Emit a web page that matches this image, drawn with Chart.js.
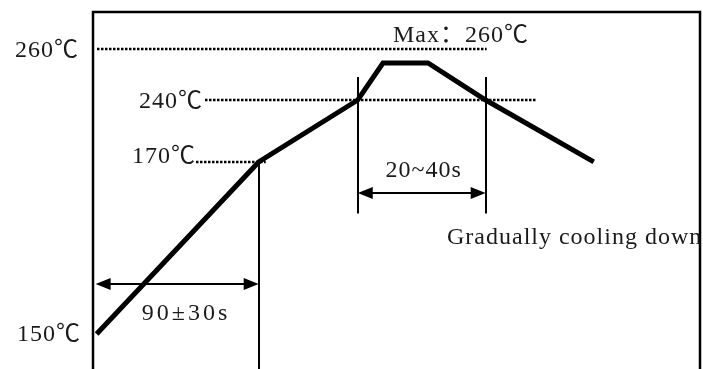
<!DOCTYPE html>
<html>
<head>
<meta charset="utf-8">
<script src="https://cdn.jsdelivr.net/npm/chart.js@4/dist/chart.umd.min.js"></script>
<style>
  html, body { margin: 0; padding: 0; background: #fff; }
  #wrap { width: 703px; height: 369px; position: relative; }
</style>
</head>
<body>
<div id="wrap"><canvas id="perfil"></canvas></div>
<script>
// datos del perfil (tiempo en s, temperatura en grados C)
const tiempos = [0, 90, 145, 159, 184, 216, 276];
const temps = [150, 170, 240, 254.5, 254.5, 240, 170];
const niveles = [150, 170, 240, 260];
const etiquetasNivel = ['150℃', '170℃', '240℃', '260℃'];
const etiquetaMax = 'Max：260℃';
const zonaPrecal = [0, 90];
const zonaReflow = [145, 216];
const textoPrecal = '90±30s';
const textoReflow = '20~40s';
const textoEnfriar = 'Gradually cooling down';

// la escala vertical del dibujo no es lineal: cada nivel tiene su altura
const alturaNivel = [0.902, 0.42, 0.2465, 0.1036];

class EscalaPerfil extends Chart.LinearScale {
    tramo(v) {
        let i = 0;
        while (i < niveles.length - 2 && v > niveles[i + 1]) i++;
        return i;
    }
    getPixelForValue(v) {
        const i = this.tramo(v);
        const f = alturaNivel[i] + (v - niveles[i]) / (niveles[i + 1] - niveles[i]) * (alturaNivel[i + 1] - alturaNivel[i]);
        return this.top + f * (this.bottom - this.top);
    }
    getValueForPixel(p) {
        const f = (p - this.top) / (this.bottom - this.top);
        let i = 0;
        while (i < alturaNivel.length - 2 && f < alturaNivel[i + 1]) i++;
        return niveles[i] + (f - alturaNivel[i]) / (alturaNivel[i + 1] - alturaNivel[i]) * (niveles[i + 1] - niveles[i]);
    }
}
EscalaPerfil.id = 'perfil';
EscalaPerfil.defaults = Chart.LinearScale.defaults;
Chart.register(EscalaPerfil);

const fuente = '24px "Liberation Serif", "Noto Sans CJK SC", serif';

function texto(ctx, t, x, y, align, espacio) {
    ctx.save();
    ctx.font = fuente;
    ctx.fillStyle = '#1a1a1a';
    ctx.textAlign = align;
    ctx.textBaseline = 'middle';
    ctx.letterSpacing = (espacio || 1) + 'px';
    ctx.fillText(t, x, y);
    ctx.restore();
}

function punteada(ctx, x1, x2, y) {
    y = Math.round(y);
    ctx.save();
    ctx.strokeStyle = '#000';
    ctx.lineWidth = 2.5;
    ctx.setLineDash([2.5, 1.5]);
    ctx.beginPath();
    ctx.moveTo(Math.round(x1), y);
    ctx.lineTo(x2, y);
    ctx.stroke();
    ctx.restore();
}

function vertical(ctx, x, y1, y2) {
    x = Math.round(x);
    ctx.save();
    ctx.strokeStyle = '#000';
    ctx.lineWidth = 2;
    ctx.beginPath();
    ctx.moveTo(x, y1);
    ctx.lineTo(x, y2);
    ctx.stroke();
    ctx.restore();
}

function flechaDoble(ctx, x1, x2, y) { //flecha con punta en ambos lados
    const largo = 15, ancho = 6;
    y = Math.round(y);
    ctx.save();
    ctx.strokeStyle = '#000';
    ctx.fillStyle = '#000';
    ctx.lineWidth = 2;
    ctx.beginPath();
    ctx.moveTo(x1 + 4, y);
    ctx.lineTo(x2 - 4, y);
    ctx.stroke();
    ctx.beginPath();
    ctx.moveTo(x1, y);
    ctx.lineTo(x1 + largo, y - ancho);
    ctx.lineTo(x1 + largo, y + ancho);
    ctx.closePath();
    ctx.fill();
    ctx.beginPath();
    ctx.moveTo(x2, y);
    ctx.lineTo(x2 - largo, y - ancho);
    ctx.lineTo(x2 - largo, y + ancho);
    ctx.closePath();
    ctx.fill();
    ctx.restore();
}

const anotaciones = {
    id: 'anotaciones',
    beforeDatasetsDraw(chart) {
        const ctx = chart.ctx;
        const a = chart.chartArea;
        const x = chart.scales.x, y = chart.scales.y;

        // marco: arriba, izquierda y derecha
        ctx.save();
        ctx.strokeStyle = '#000';
        ctx.lineWidth = 2.5;
        ctx.beginPath();
        ctx.moveTo(a.left, chart.height);
        ctx.lineTo(a.left, a.top);
        ctx.lineTo(a.right, a.top);
        ctx.lineTo(a.right, chart.height);
        ctx.stroke();
        ctx.restore();

        // lineas punteadas de nivel
        punteada(ctx, a.left + 4, x.getPixelForValue(zonaReflow[1]) + 1, y.getPixelForValue(niveles[3]));
        punteada(ctx, 205, x.getPixelForValue(244.5), y.getPixelForValue(niveles[2]));
        punteada(ctx, 196, x.getPixelForValue(zonaPrecal[1]) + 7, y.getPixelForValue(niveles[1]));

        // lineas verticales
        vertical(ctx, x.getPixelForValue(zonaPrecal[1]), y.getPixelForValue(170), chart.height);
        vertical(ctx, x.getPixelForValue(zonaReflow[0]), y.getPixelForValue(249), y.getPixelForValue(164));
        vertical(ctx, x.getPixelForValue(zonaReflow[1]), y.getPixelForValue(249), y.getPixelForValue(164));

        // flechas
        flechaDoble(ctx, x.getPixelForValue(zonaPrecal[0]) - 1, x.getPixelForValue(zonaPrecal[1]), y.getPixelForValue(155.8));
        flechaDoble(ctx, x.getPixelForValue(zonaReflow[0]), x.getPixelForValue(zonaReflow[1]), y.getPixelForValue(166.4));
    },
    afterDatasetsDraw(chart) {
        const ctx = chart.ctx;
        const x = chart.scales.x, y = chart.scales.y;

        texto(ctx, etiquetasNivel[3], 79, y.getPixelForValue(niveles[3]) + 2, 'right');
        texto(ctx, etiquetasNivel[2], 203, y.getPixelForValue(niveles[2]) + 2, 'right');
        texto(ctx, etiquetasNivel[1], 196, y.getPixelForValue(niveles[1]) - 5, 'right');
        texto(ctx, etiquetasNivel[0], 81, y.getPixelForValue(niveles[0]) + 1, 'right');

        texto(ctx, etiquetaMax, 393, 36, 'left');
        texto(ctx, textoReflow, (x.getPixelForValue(zonaReflow[0]) + x.getPixelForValue(zonaReflow[1])) / 2 + 2, 171, 'center');
        texto(ctx, textoPrecal, 186, 314, 'center', 3);
        texto(ctx, textoEnfriar, 447, 238, 'left');
    }
};

var grafica = new Chart(document.getElementById('perfil'), {
    type: 'line',
    data: {
        labels: tiempos,
        datasets: [{
            label: 'Perfil de soldadura',
            data: tiempos.map((t, i) => ({ x: t, y: temps[i] })),
            borderColor: '#000',
            borderWidth: 5,
            borderJoinStyle: 'miter',
            pointRadius: 0,
            tension: 0,
            fill: false,
            clip: false
        }]
    },
    options: {
        responsive: true,
        maintainAspectRatio: false,
        animation: false,
        layout: { padding: { left: 93, top: 12, right: 3, bottom: 0 } },
        scales: {
            x: { type: 'linear', min: -2, max: 335, display: false },
            y: { type: 'perfil', min: 140, max: 270, display: false }
        },
        plugins: {
            legend: { display: false },
            tooltip: { enabled: false }
        }
    },
    plugins: [anotaciones]
});
</script>
</body>
</html>
